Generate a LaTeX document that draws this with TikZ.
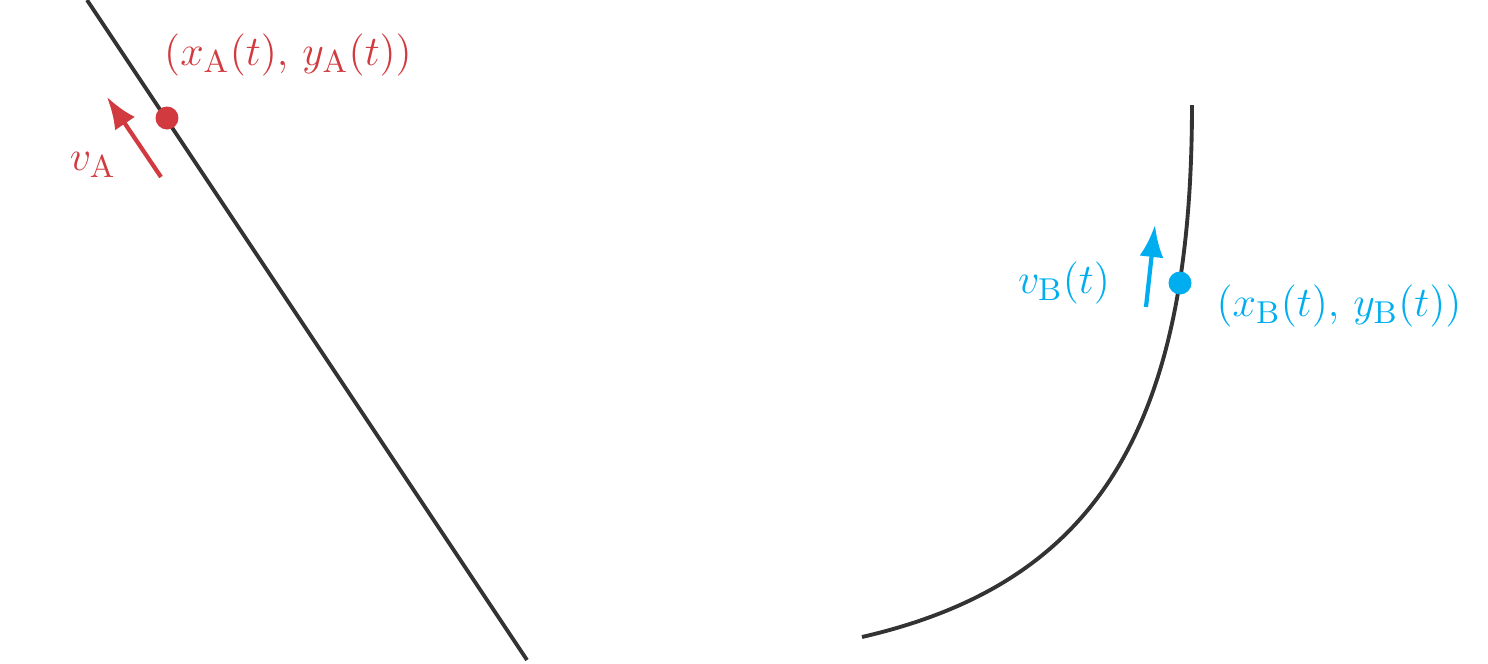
\documentclass[tikz,border=0pt]{standalone}
\usetikzlibrary{arrows.meta}
\definecolor{ared}{RGB}{209,58,63}
\definecolor{bblue}{RGB}{0,174,239}
\definecolor{track}{RGB}{51,51,51}
\begin{document}
\begin{tikzpicture}
      \useasboundingbox (0,0) rectangle (14.88,6.63);
      \tikzset{vel/.style={line width=1.2pt,-{Latex[length=3.2mm,width=2.4mm]}},
               lbl/.style={font=\fontsize{13}{16}\selectfont}}

      % path of A
      \coordinate (a0) at (0.87,6.63);
      \coordinate (a1) at (5.27,0.03);
      \draw[track,line width=1.1pt] (a0) -- (a1);

      % path of B
      \coordinate (b0) at (8.62,0.26);
      \coordinate (b1) at (11.92,5.58);
      \draw[track,line width=1.1pt] (b0) .. controls (10.92,0.79) and (11.92,2.28) .. (b1);

      \coordinate (pA) at (1.67,5.45);
      \coordinate (pB) at (11.80,3.80);

      \fill[ared] (pA) circle[radius=1.15mm];
      \fill[bblue] (pB) circle[radius=1.15mm];

      \coordinate (vA0) at (1.61,4.86);
      \coordinate (vA1) at (1.07,5.66);
      \coordinate (vB0) at (11.46,3.56);
      \coordinate (vB1) at (11.55,4.38);
      \draw[ared,vel] (vA0) -- (vA1);
      \draw[bblue,vel] (vB0) -- (vB1);

      \node[lbl,text=ared] (labA) at (2.88,6.08) {$(x_{\mathrm{A}}(t),\, y_{\mathrm{A}}(t))$};
      \node[lbl,text=ared] (labvA) at (0.93,4.98) {$v_{\mathrm{A}}$};
      \node[lbl,text=bblue] (labB) at (13.39,3.57) {$(x_{\mathrm{B}}(t),\, y_{\mathrm{B}}(t))$};
      \node[lbl,text=bblue] (labvB) at (10.64,3.80) {$v_{\mathrm{B}}(t)$};
    \end{tikzpicture}
\end{document}
